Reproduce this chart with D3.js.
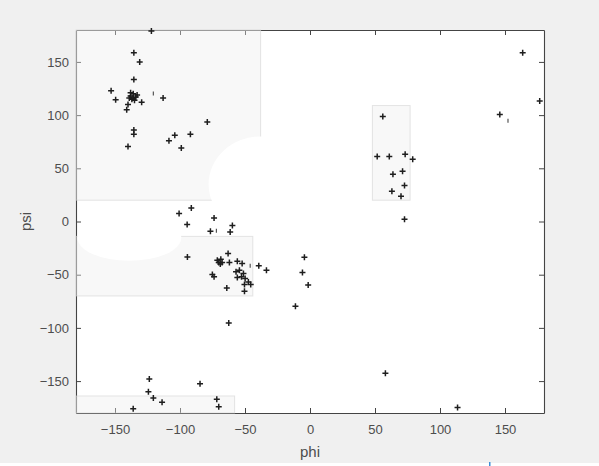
<!DOCTYPE html>
<html>
<head>
<meta charset="utf-8">
<script src="https://cdn.jsdelivr.net/npm/d3@7"></script>
<style>
  body { margin: 0; background: #f0f0f0; }
  text { font-family: "Liberation Sans", Arial, sans-serif; }
</style>
</head>
<body>
<div id="chart-area"></div>
<script>
// residue angles (degrees)
const phiVals = [
  -122, -135.5, -131, -135.5, -153, -149.5,
  -138, -136, -134, -137, -135, -139, -133, -136, -138,
  -140, -141, -129.5, -113, -79, -135.5, -135.5, -104, -92, -108.5, -99, -140,
  -100.7, -91.3, -94.5, -73.8, -59.7, -61.4, -76.6, -94.3, -63,
  -71.3, -68.6, -67.6, -70.2, -69, -62, -75.1, -73.8,
  -55.9, -52.2, -39.4, -33.5, -54.3, -56.9, -51.2, -52.7, -49.9, -55.9,
  -47.4, -50.4, -45.6, -64, -50.4, -62.5, -11.2, -4.3, -5.8, -1.4,
  -123.6, -124.3, -120.5, -113.8, -136, -84.6, -71.7, -70.2,
  56, 51.7, 61, 73.2, 79, 63.8, 71.2, 72.7, 63, 70, 72.7,
  163.6, 176.7, 146, 58, 113.5
];
const psiVals = [
  179, 158.5, 150, 133.5, 123, 114.5,
  118, 120, 117, 115, 114, 116, 119, 116, 121,
  110, 105, 112, 116, 93.5, 86, 82, 81, 82, 76, 69, 70.5,
  7.5, 12.8, -2.8, 3.4, -3.8, -9.8, -9.1, -33.3, -30,
  -36.4, -35.4, -38.5, -38.5, -40, -38.5, -49.8, -52,
  -37.3, -39.5, -41.7, -45.8, -45.8, -47.3, -48.9, -52, -53.6, -52.6,
  -56.8, -59.2, -59.2, -62.4, -65.5, -95.3, -79.6, -33.6, -48, -59.6,
  -148, -160, -165.8, -169.8, -176, -152.6, -167, -174.2,
  98.7, 61, 61, 63.3, 58.6, 44.5, 47.3, 33.8, 28.5, 23.8, 2.2,
  158.5, 113.3, 100.6, -142.6, -174.8
];
// faint, partly drawn markers
const faintPhi = [-120.5, -72, -46, 152.3];
const faintPsi = [120.3, -8.8, -41.7, 94.6];

const xTicks = [-150, -100, -50, 0, 50, 100, 150];
const yTicks = [-150, -100, -50, 0, 50, 100, 150];

// shaded regions [phiMin, phiMax, psiMin, psiMax]
const regions = [
  [-180, -38, 20, 180],
  [-180, -44, -70, -14],
  [-180, -58, -180, -164],
  [48, 77, 20, 109]
];
// white ellipses cut out [phiCenter, psiCenter, phiRadius, psiRadius]
const cutouts = [
  [-38, 35, 40, 45],
  [-139, -15, 40, 22]
];

const W = 599, H = 466;
const x = d3.scaleLinear().domain([-180, 180]).range([76, 544]);
const y = d3.scaleLinear().domain([-180, 180]).range([413, 30]);

const svg = d3.select("#chart-area")
  .append("svg")
  .attr("width", W)
  .attr("height", H);

svg.append("rect")
  .attr("width", W).attr("height", H)
  .attr("fill", "#f0f0f0");
svg.append("rect")
  .attr("y", 463).attr("width", W).attr("height", 3)
  .attr("fill", "#ffffff");
svg.append("rect")
  .attr("x", 489).attr("y", 462).attr("width", 1.5).attr("height", 4)
  .attr("fill", "#3b8ed8");

svg.append("rect")
  .attr("x", x(-180)).attr("y", y(180))
  .attr("width", x(180) - x(-180))
  .attr("height", y(-180) - y(180))
  .attr("fill", "#ffffff");

const axisColor = "#444";

function styleAxis(g) {
  g.select(".domain").attr("stroke", axisColor).attr("stroke-width", 1.1);
  g.selectAll(".tick line").attr("stroke", axisColor);
  g.selectAll(".tick text")
    .attr("fill", "#4d4d4d")
    .attr("font-size", "13px")
    .attr("font-family", "'Liberation Sans', Arial, sans-serif");
}

svg.append("g")
  .attr("transform", `translate(0, ${y(-180)})`)
  .call(d3.axisBottom(x).tickValues(xTicks).tickSizeInner(-5).tickSizeOuter(0).tickPadding(12))
  .call(styleAxis);

svg.append("g")
  .attr("transform", `translate(${x(-180)}, 0)`)
  .call(d3.axisLeft(y).tickValues(yTicks).tickSizeInner(-5).tickSizeOuter(0).tickPadding(7))
  .call(styleAxis);

svg.append("g")
  .attr("transform", `translate(0, ${y(180)})`)
  .call(d3.axisTop(x).tickValues(xTicks).tickSizeInner(-5).tickSizeOuter(0).tickFormat(""))
  .call(styleAxis);

svg.append("g")
  .attr("transform", `translate(${x(180)}, 0)`)
  .call(d3.axisRight(y).tickValues(yTicks).tickSizeInner(-5).tickSizeOuter(0).tickFormat(""))
  .call(styleAxis);

// shaded regions drawn semi-transparent over the axis line
svg.append("g")
  .selectAll("rect")
  .data(regions)
  .enter()
  .append("rect")
  .attr("x", d => x(d[0]))
  .attr("y", d => y(d[3]))
  .attr("width", d => x(d[1]) - x(d[0]))
  .attr("height", d => y(d[2]) - y(d[3]))
  .attr("fill", "#ececec")
  .attr("fill-opacity", 0.38)
  .attr("stroke", "#d4d4d4")
  .attr("stroke-opacity", 0.6)
  .attr("stroke-width", 1);

svg.append("g")
  .selectAll("ellipse")
  .data(cutouts)
  .enter()
  .append("ellipse")
  .attr("cx", d => x(d[0]))
  .attr("cy", d => y(d[1]))
  .attr("rx", d => x(d[2]) - x(0))
  .attr("ry", d => y(0) - y(d[3]))
  .attr("fill", "#ffffff");

const plus = "M-3,0H3M0,-3V3";

svg.append("g")
  .selectAll("path")
  .data(phiVals.map((p, i) => [p, psiVals[i]]))
  .enter()
  .append("path")
  .attr("transform", d => `translate(${x(d[0])}, ${y(d[1])})`)
  .attr("d", plus)
  .attr("stroke", "#1e1e1e")
  .attr("stroke-width", 1.5)
  .attr("fill", "none");

svg.append("g")
  .selectAll("path")
  .data(faintPhi.map((p, i) => [p, faintPsi[i]]))
  .enter()
  .append("path")
  .attr("transform", d => `translate(${x(d[0])}, ${y(d[1])})`)
  .attr("d", "M0,-2V2")
  .attr("stroke", "#555")
  .attr("stroke-width", 1.2)
  .attr("fill", "none");

svg.append("text")
  .attr("x", x(0))
  .attr("y", 457)
  .attr("text-anchor", "middle")
  .attr("font-size", "15px")
  .attr("fill", "#4d4d4d")
  .text("phi");

svg.append("text")
  .attr("transform", "rotate(-90)")
  .attr("x", -y(0))
  .attr("y", 31)
  .attr("text-anchor", "middle")
  .attr("font-size", "15px")
  .attr("fill", "#4d4d4d")
  .text("psi");
</script>
</body>
</html>
